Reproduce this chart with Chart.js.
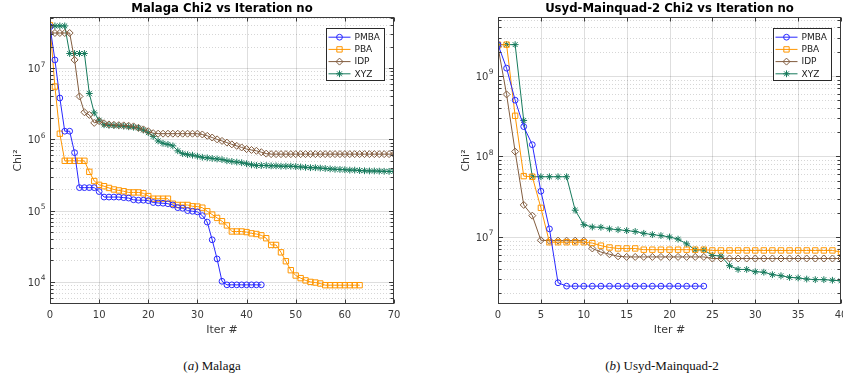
<!DOCTYPE html>
<html>
<head>
<meta charset="utf-8">
<script src="https://cdn.jsdelivr.net/npm/chart.js@4/dist/chart.umd.min.js"></script>
<style>
  html, body { margin: 0; padding: 0; background: #fff; }
  body { width: 843px; height: 381px; overflow: hidden; position: relative; }
  canvas { position: absolute; top: 0; }
  #cA { left: 0; }
  #cB { left: 420px; }
  .cap { position: absolute; top: 358px; font: 13px "Liberation Serif", "DejaVu Serif", serif; color: #111; white-space: nowrap; transform: translateX(-50%); }
</style>
</head>
<body>
<canvas id="cA" width="420" height="345"></canvas>
<canvas id="cB" width="440" height="345"></canvas>
<div class="cap" style="left:212px">(<i>a</i>) Malaga</div>
<div class="cap" style="left:662px">(<i>b</i>) Usyd-Mainquad-2</div>
<script>
// ---------------- DATA ----------------
const seriesNames = ["PMBA", "PBA", "IDP", "XYZ"];

// Malaga
const malagaTitle = "Malaga Chi2 vs Iteration no";
const malagaPMBA = [3.8e7, 1.3e7, 3.8e6, 1.3e6, 1.3e6, 6.5e5, 2.1e5, 2.1e5, 2.1e5, 2.1e5,
  1.85e5, 1.55e5, 1.55e5, 1.55e5, 1.55e5, 1.52e5, 1.5e5, 1.42e5, 1.4e5, 1.4e5,
  1.38e5, 1.3e5, 1.28e5, 1.27e5, 1.25e5, 1.2e5, 1.1e5, 1.08e5, 1.0e5, 9.8e4,
  9.6e4, 8.5e4, 6.9e4, 3.9e4, 2.1e4, 1.02e4, 9.1e3, 9.1e3, 9.1e3, 9.1e3,
  9.1e3, 9.1e3, 9.1e3, 9.1e3];
const malagaPBA = [4.0e7, 5.5e6, 1.2e6, 5.0e5, 5.0e5, 5.0e5, 5.0e5, 5.0e5, 3.5e5, 2.6e5,
  2.3e5, 2.2e5, 2.08e5, 1.98e5, 1.92e5, 1.87e5, 1.8e5, 1.8e5, 1.8e5, 1.75e5,
  1.6e5, 1.47e5, 1.47e5, 1.47e5, 1.47e5, 1.25e5, 1.2e5, 1.2e5, 1.2e5, 1.15e5,
  1.14e5, 1.1e5, 9.8e4, 8.8e4, 7.9e4, 7.1e4, 6.2e4, 5.1e4, 5.1e4, 5.1e4,
  5.0e4, 4.8e4, 4.7e4, 4.5e4, 4.1e4, 3.3e4, 3.3e4, 2.6e4, 1.95e4, 1.46e4,
  1.23e4, 1.13e4, 1.05e4, 1.0e4, 9.8e3, 9.5e3, 9.0e3, 9.0e3, 9.0e3, 9.0e3,
  9.0e3, 9.0e3, 9.0e3, 9.0e3];
const malagaIDP = [3.1e7, 3.1e7, 3.1e7, 3.1e7, 3.1e7, 1.3e7, 4.0e6, 2.4e6, 2.2e6, 1.7e6,
  1.8e6, 1.68e6, 1.62e6, 1.6e6, 1.58e6, 1.57e6, 1.55e6, 1.52e6, 1.45e6, 1.38e6,
  1.3e6, 1.22e6, 1.2e6, 1.2e6, 1.2e6, 1.2e6, 1.2e6, 1.2e6, 1.2e6, 1.2e6,
  1.2e6, 1.17e6, 1.12e6, 1.06e6, 1.0e6, 9.5e5, 9.0e5, 8.5e5, 8.1e5, 7.7e5,
  7.3e5, 7.1e5, 6.9e5, 6.6e5, 6.3e5, 6.2e5, 6.2e5, 6.2e5, 6.2e5, 6.2e5,
  6.2e5, 6.2e5, 6.2e5, 6.2e5, 6.2e5, 6.2e5, 6.2e5, 6.2e5, 6.2e5, 6.2e5,
  6.2e5, 6.2e5, 6.2e5, 6.2e5, 6.2e5, 6.2e5, 6.2e5, 6.2e5, 6.2e5, 6.2e5,
  6.2e5];
const malagaXYZ = [3.9e7, 3.9e7, 3.9e7, 3.9e7, 1.6e7, 1.6e7, 1.6e7, 1.6e7, 4.4e6, 2.35e6,
  1.86e6, 1.6e6, 1.57e6, 1.56e6, 1.55e6, 1.53e6, 1.5e6, 1.48e6, 1.44e6, 1.35e6,
  1.24e6, 1.1e6, 9.5e5, 8.8e5, 8.5e5, 8.1e5, 6.9e5, 6.3e5, 6.1e5, 6.0e5,
  5.8e5, 5.6e5, 5.5e5, 5.4e5, 5.3e5, 5.2e5, 5.0e5, 4.9e5, 4.8e5, 4.7e5,
  4.55e5, 4.4e5, 4.3e5, 4.3e5, 4.3e5, 4.25e5, 4.25e5, 4.2e5, 4.2e5, 4.2e5,
  4.15e5, 4.1e5, 4.05e5, 4.0e5, 4.0e5, 3.95e5, 3.9e5, 3.85e5, 3.8e5, 3.78e5,
  3.75e5, 3.7e5, 3.7e5, 3.65e5, 3.62e5, 3.6e5, 3.6e5, 3.58e5, 3.56e5, 3.55e5,
  3.55e5];
const malagaXTicks = [0, 10, 20, 30, 40, 50, 60, 70];
const malagaYTicks = [1e4, 1e5, 1e6, 1e7];
const malagaYRange = [4.9e3, 5.2e7];

// Usyd-Mainquad-2
const usydTitle = "Usyd-Mainquad-2 Chi2 vs Iteration no";
const usydPMBA = [2.45e9, 1.25e9, 5.0e8, 2.35e8, 1.4e8, 3.7e7, 1.26e7, 2.7e6, 2.45e6, 2.45e6,
  2.45e6, 2.45e6, 2.45e6, 2.45e6, 2.45e6, 2.45e6, 2.45e6, 2.45e6, 2.45e6, 2.45e6,
  2.45e6, 2.45e6, 2.45e6, 2.45e6, 2.45e6];
const usydPBA = [2.45e9, 2.45e9, 3.2e8, 5.7e7, 5.6e7, 2.3e7, 8.6e6, 8.6e6, 8.6e6, 8.6e6,
  8.6e6, 8.4e6, 7.8e6, 7.4e6, 7.2e6, 7.2e6, 7.2e6, 6.95e6, 6.95e6, 6.95e6,
  6.95e6, 6.95e6, 6.95e6, 6.95e6, 6.95e6, 6.8e6, 6.8e6, 6.8e6, 6.8e6, 6.8e6,
  6.8e6, 6.8e6, 6.8e6, 6.8e6, 6.8e6, 6.8e6, 6.8e6, 6.8e6, 6.8e6, 6.8e6,
  6.5e6];
const usydIDP = [2.3e9, 5.9e8, 1.15e8, 2.5e7, 1.84e7, 9.1e6, 9.0e6, 9.0e6, 9.0e6, 9.0e6,
  9.0e6, 7.2e6, 6.5e6, 6.1e6, 5.75e6, 5.65e6, 5.65e6, 5.65e6, 5.65e6, 5.65e6,
  5.65e6, 5.65e6, 5.65e6, 5.65e6, 5.65e6, 5.4e6, 5.4e6, 5.4e6, 5.4e6, 5.4e6,
  5.4e6, 5.4e6, 5.4e6, 5.4e6, 5.4e6, 5.4e6, 5.4e6, 5.4e6, 5.4e6, 5.4e6,
  5.4e6];
const usydXYZ = [2.45e9, 2.45e9, 2.45e9, 2.8e8, 5.6e7, 5.6e7, 5.6e7, 5.6e7, 5.6e7, 2.15e7,
  1.42e7, 1.33e7, 1.32e7, 1.26e7, 1.23e7, 1.2e7, 1.17e7, 1.11e7, 1.07e7, 1.04e7,
  1.0e7, 9.4e6, 8.2e6, 6.9e6, 6.9e6, 5.9e6, 5.8e6, 4.4e6, 3.95e6, 3.95e6,
  3.7e6, 3.65e6, 3.4e6, 3.3e6, 3.15e6, 3.1e6, 3.0e6, 2.95e6, 2.95e6, 2.9e6,
  2.85e6];
const usydXTicks = [0, 5, 10, 15, 20, 25, 30, 35, 40];
const usydYTicks = [1e7, 1e8, 1e9];
const usydYRange = [1.47e6, 5.4e9];

const xAxisLabel = "Iter #";
const yAxisLabel = "Chi\u00B2";

// ---------------- STYLE ----------------
const styles = [
  { color: "rgb(40,40,255)",  point: "circle",  r: 2.9 },
  { color: "rgb(255,150,0)",  point: "rect",    r: 3.8 },
  { color: "rgb(130,92,62)",  point: "rectRot", r: 3.5 },
  { color: "rgb(22,122,92)",  point: "star",    r: 3.4 }
];
const FONT = "'DejaVu Sans', sans-serif";

function drawMarker(ctx, style, x, y, r) {
  ctx.beginPath();
  if (style === "circle") {
    ctx.arc(x, y, r, 0, Math.PI * 2);
  } else if (style === "rect") {
    const s = Math.SQRT1_2 * r;
    ctx.rect(x - s, y - s, 2 * s, 2 * s);
  } else if (style === "rectRot") {
    ctx.moveTo(x - r, y); ctx.lineTo(x, y - r); ctx.lineTo(x + r, y); ctx.lineTo(x, y + r); ctx.closePath();
  } else if (style === "star") {
    ctx.moveTo(x - r, y); ctx.lineTo(x + r, y);
    ctx.moveTo(x, y - r); ctx.lineTo(x, y + r);
    const d = r * Math.SQRT1_2;
    ctx.moveTo(x - d, y - d); ctx.lineTo(x + d, y + d);
    ctx.moveTo(x - d, y + d); ctx.lineTo(x + d, y - d);
  }
  ctx.stroke();
}

const matlabPlugin = {
  id: "matlab",
  beforeDatasetsDraw(chart) {
    const { ctx, chartArea: a, scales: { x, y } } = chart;
    const o = chart.options.plugins.matlab;
    ctx.save();
    ctx.lineWidth = 1;
    const e0 = Math.floor(Math.log10(y.min)), e1 = Math.ceil(Math.log10(y.max));
    ctx.strokeStyle = "rgba(0,0,0,0.16)";
    ctx.setLineDash([1, 2]);
    for (let e = e0; e <= e1; e++) {
      for (let k = 2; k <= 9; k++) {
        const v = k * Math.pow(10, e);
        if (v <= y.min || v >= y.max) continue;
        const py = Math.round(y.getPixelForValue(v)) + 0.5;
        ctx.beginPath(); ctx.moveTo(a.left, py); ctx.lineTo(a.right, py); ctx.stroke();
      }
    }
    ctx.setLineDash([]);
    ctx.strokeStyle = "rgba(0,0,0,0.13)";
    for (const v of o.yTicks) {
      const py = Math.round(y.getPixelForValue(v)) + 0.5;
      ctx.beginPath(); ctx.moveTo(a.left, py); ctx.lineTo(a.right, py); ctx.stroke();
    }
    for (const t of o.xTicks) {
      const px = Math.round(x.getPixelForValue(t)) + 0.5;
      if (px <= a.left + 1 || px >= a.right - 1) continue;
      ctx.beginPath(); ctx.moveTo(px, a.top); ctx.lineTo(px, a.bottom); ctx.stroke();
    }
    ctx.restore();
  },
  afterDraw(chart) {
    const { ctx, chartArea: a, scales: { x, y } } = chart;
    const o = chart.options.plugins.matlab;
    ctx.save();
    ctx.strokeStyle = "#3a3a3a";
    ctx.lineWidth = 1;
    const L = Math.round(a.left) + 0.5, R = Math.round(a.right) - 0.5;
    const T = Math.round(a.top) + 0.5, B = Math.round(a.bottom) - 0.5;
    ctx.strokeRect(L, T, R - L, B - T);
    const tl = 4;
    for (const t of o.xTicks) {
      const px = Math.round(x.getPixelForValue(t)) + 0.5;
      ctx.beginPath();
      ctx.moveTo(px, B); ctx.lineTo(px, B - tl);
      ctx.moveTo(px, T); ctx.lineTo(px, T + tl);
      ctx.stroke();
    }
    const e0 = Math.floor(Math.log10(y.min)), e1 = Math.ceil(Math.log10(y.max));
    for (let e = e0; e <= e1; e++) {
      for (let k = 1; k <= 9; k++) {
        const v = k * Math.pow(10, e);
        if (v < y.min || v > y.max) continue;
        const py = Math.round(y.getPixelForValue(v)) + 0.5;
        const len = k === 1 ? 4.5 : 3;
        ctx.beginPath();
        ctx.moveTo(L, py); ctx.lineTo(L + len, py);
        ctx.moveTo(R, py); ctx.lineTo(R - len, py);
        ctx.stroke();
      }
    }
    // y tick labels: "10" with raised exponent
    ctx.fillStyle = "#3a3a3a";
    ctx.textBaseline = "alphabetic";
    for (const v of o.yTicks) {
      const py = y.getPixelForValue(v);
      const ex = String(Math.round(Math.log10(v)));
      ctx.font = "7.5px " + FONT;
      const ew = ctx.measureText(ex).width;
      ctx.textAlign = "left";
      const right = a.left - 4.5;
      ctx.fillText(ex, right - ew, py - 1.5);
      ctx.font = "10px " + FONT;
      ctx.textAlign = "right";
      ctx.fillText("10", right - ew - 0.3, py + 4);
    }
    // title
    ctx.fillStyle = "#000";
    ctx.font = "bold 11.7px " + FONT;
    ctx.textAlign = "center";
    ctx.textBaseline = "middle";
    ctx.fillText(o.title, (a.left + a.right) / 2, 9);
    // legend
    const bw = 58, bh = 52;
    const bx = Math.round(a.right - 10 - bw) + 0.5, by = Math.round(a.top + 11) + 0.5;
    ctx.fillStyle = "#fff";
    ctx.fillRect(bx, by, bw, bh);
    ctx.strokeStyle = "#2a2a2a";
    ctx.strokeRect(bx, by, bw, bh);
    ctx.font = "9px " + FONT;
    ctx.textAlign = "left";
    chart.data.datasets.forEach((ds, i) => {
      const st = styles[i];
      const ly = by + 8.7 + i * 12.2;
      ctx.strokeStyle = st.color;
      ctx.lineWidth = 1;
      ctx.beginPath(); ctx.moveTo(bx + 2, ly); ctx.lineTo(bx + 24, ly); ctx.stroke();
      drawMarker(ctx, st.point, bx + 13, ly, st.r);
      ctx.fillStyle = "#1a1a1a";
      ctx.fillText(ds.label, bx + 28, ly + 0.5);
    });
    ctx.restore();
  }
};

function makeDatasets(arrs) {
  return arrs.map((arr, i) => ({
    label: seriesNames[i],
    data: arr.map((v, k) => ({ x: k, y: v })),
    borderColor: styles[i].color,
    backgroundColor: "rgba(0,0,0,0)",
    borderWidth: 1,
    pointStyle: styles[i].point,
    pointRadius: styles[i].r,
    pointBorderWidth: 1,
    pointBorderColor: styles[i].color,
    pointBackgroundColor: "rgba(0,0,0,0)",
    tension: 0
  }));
}

function makeChart(id, title, arrs, xTicks, yTicks, yRange, padLeft, padRight) {
  return new Chart(document.getElementById(id), {
    type: "line",
    data: { datasets: makeDatasets(arrs) },
    plugins: [matlabPlugin],
    options: {
      responsive: false,
      animation: false,
      devicePixelRatio: 1,
      layout: { padding: { left: padLeft, right: padRight, top: 17, bottom: 6 } },
      plugins: {
        legend: { display: false },
        title: { display: false },
        tooltip: { enabled: false },
        matlab: { title: title, xTicks: xTicks, yTicks: yTicks }
      },
      scales: {
        x: {
          type: "linear",
          min: xTicks[0], max: xTicks[xTicks.length - 1],
          grid: { display: false, drawTicks: false },
          border: { display: false },
          afterBuildTicks: s => { s.ticks = xTicks.map(v => ({ value: v })); },
          afterFit: s => { s.height = 35; },
          ticks: { color: "#3a3a3a", font: { family: FONT, size: 10 }, padding: 5, maxRotation: 0, autoSkip: false },
          title: { display: true, text: xAxisLabel, color: "#3a3a3a", font: { family: FONT, size: 11 }, padding: { top: 0, bottom: 2.4 } }
        },
        y: {
          type: "logarithmic",
          min: yRange[0], max: yRange[1],
          grid: { display: false, drawTicks: false },
          border: { display: false },
          afterBuildTicks: s => { s.ticks = yTicks.map(v => ({ value: v })); },
          afterFit: s => { s.width = 50; },
          ticks: { display: false },
          title: { display: true, text: yAxisLabel, color: "#3a3a3a", font: { family: FONT, size: 11 }, padding: { top: 11.4, bottom: 0 } }
        }
      }
    }
  });
}

makeChart("cA", malagaTitle, [malagaPMBA, malagaPBA, malagaIDP, malagaXYZ], malagaXTicks, malagaYTicks, malagaYRange, 0, 26);
makeChart("cB", usydTitle, [usydPMBA, usydPBA, usydIDP, usydXYZ], usydXTicks, usydYTicks, usydYRange, 28, 19);
</script>
</body>
</html>
